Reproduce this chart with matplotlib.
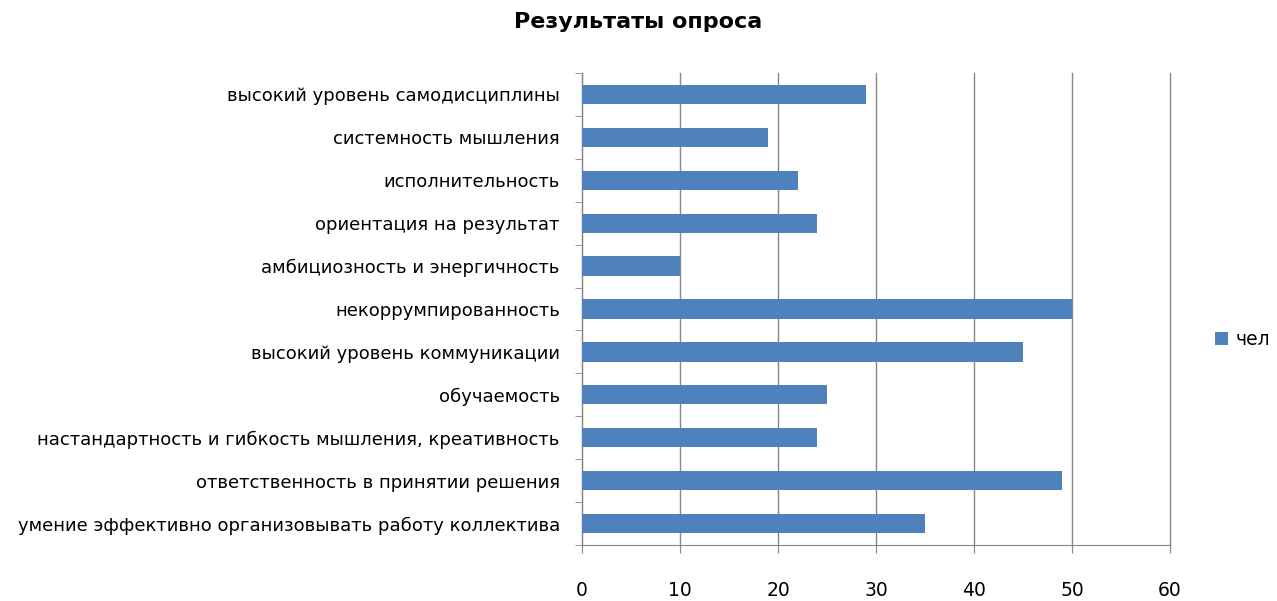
import matplotlib.pyplot as plt
import numpy as np

categories = [
    "высокий уровень самодисциплины",
    "системность мышления",
    "исполнительность",
    "ориентация на результат",
    "амбициозность и энергичность",
    "некоррумпированность",
    "высокий уровень коммуникации",
    "обучаемость",
    "настандартность и гибкость мышления, креативность",
    "ответственность в принятии решения",
    "умение эффективно организовывать работу коллектива",
]
values = [29, 19, 22, 24, 10, 50, 45, 25, 24, 49, 35]
series_name = "чел"

plt.rcParams['font.family'] = ['DejaVu Sans']

fig = plt.figure(figsize=(12.77, 6.01), dpi=100)
ax = fig.add_axes([0.4558, 0.0932, 0.4604, 0.7853])

y = np.arange(len(categories))[::-1]
ax.barh(y, values, height=0.45, color='#4F81BD', label=series_name, zorder=3)

ax.set_xlim(0, 60)
ax.set_ylim(-0.5, len(categories) - 0.5)
ax.set_xticks(range(0, 61, 10))
ax.grid(axis='x', color='#868686', linewidth=1.0, zorder=0)
for gl in ax.get_xgridlines():
    gl.set_clip_on(False)

ax.set_yticks(y)
ax.set_yticklabels(categories, fontsize=13)
ax.set_yticks(np.arange(-0.5, len(categories), 1), minor=True)
ax.tick_params(axis='y', which='major', length=0, pad=16)
ax.tick_params(axis='y', which='minor', length=5, color='#868686')
ax.tick_params(axis='x', length=6, color='#868686', pad=20, labelsize=13.5)

for s in ['top', 'right']:
    ax.spines[s].set_visible(False)
for s in ['left', 'bottom']:
    ax.spines[s].set_color('#868686')

fig.text(0.5, 0.963, "Результаты опроса", ha='center', va='center',
         fontsize=16, fontweight='bold')

fig.legend(loc='center left', bbox_to_anchor=(0.938, 0.435), frameon=False,
           fontsize=13.5, handlelength=0.7, handleheight=0.7, handletextpad=0.4)

fig.savefig('out.png', dpi=100)
